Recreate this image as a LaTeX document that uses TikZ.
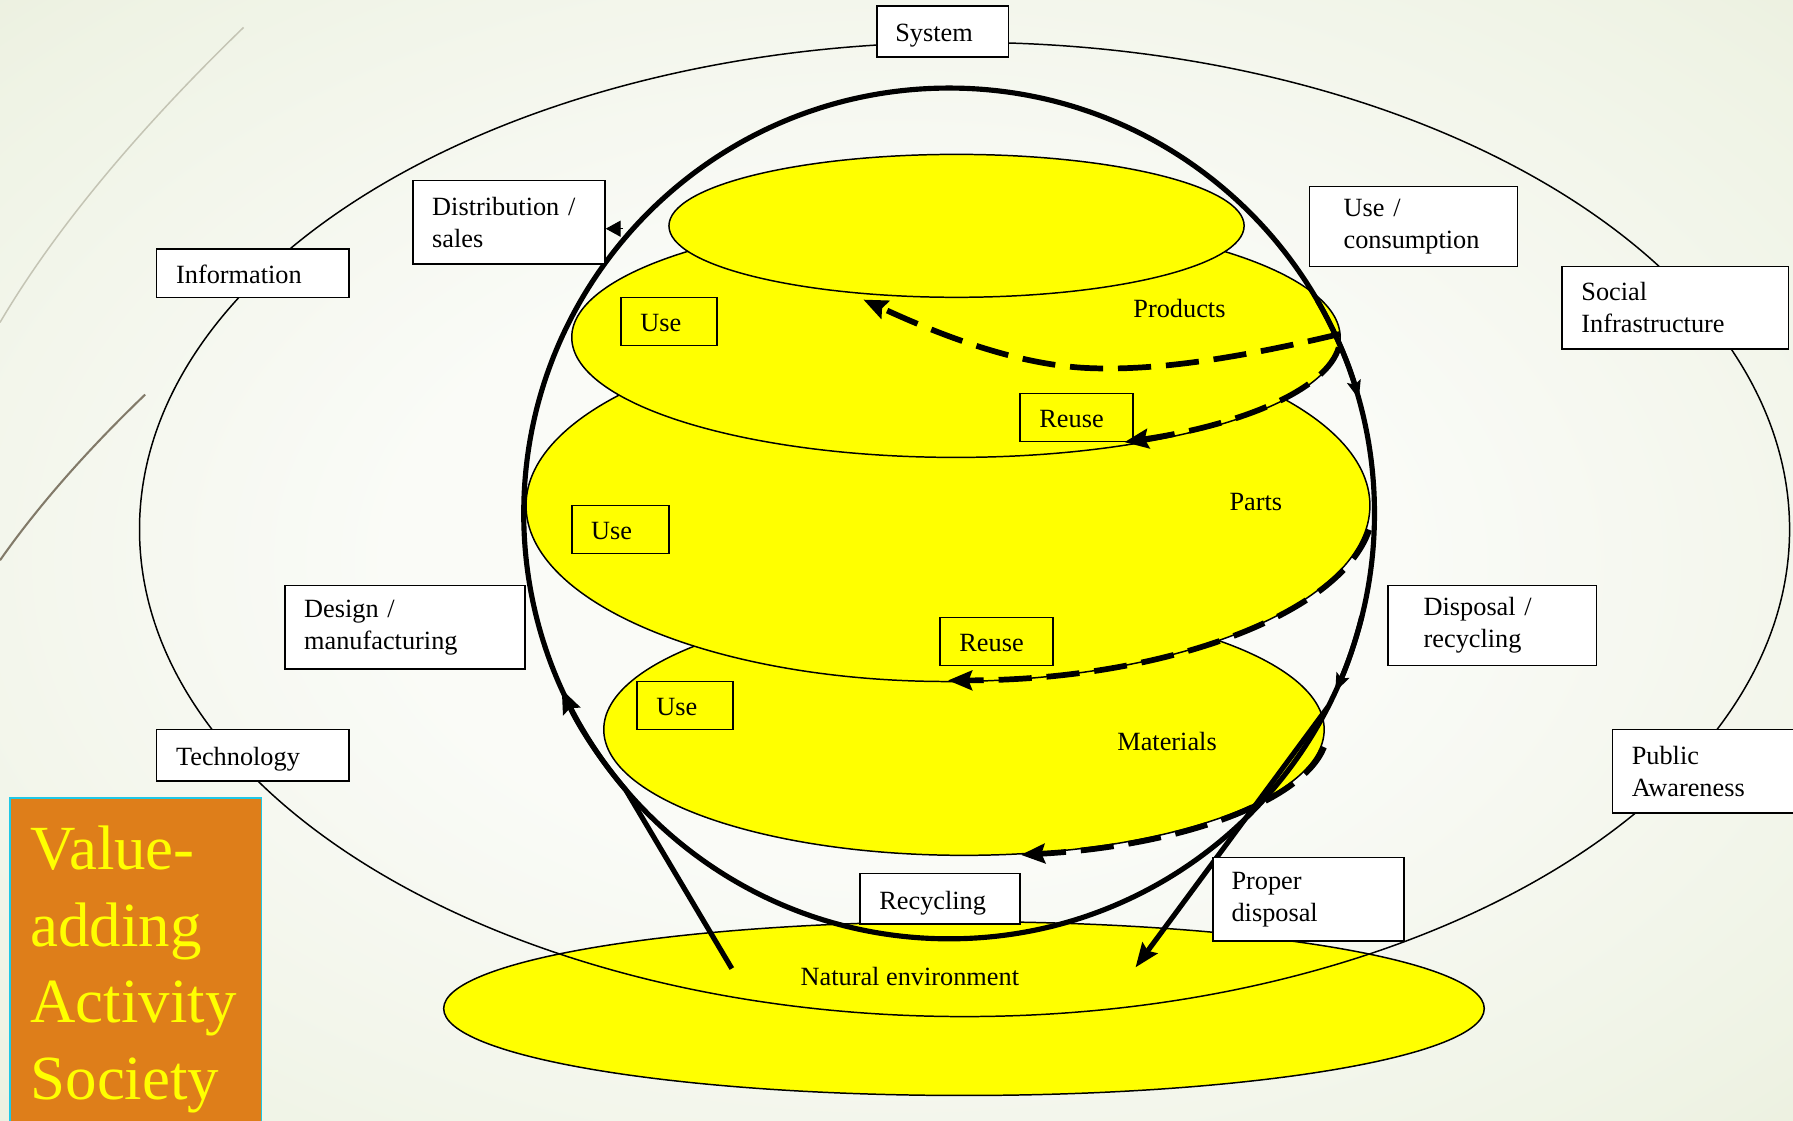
\documentclass[tikz,border=0pt]{standalone}
\usepackage{fontspec}
\setmainfont{Liberation Serif}
\usetikzlibrary{arrows.meta,calc}

\definecolor{bgouter}{RGB}{225,232,206}
\definecolor{bgmid}{RGB}{239,243,229}
\definecolor{bginner}{RGB}{250,251,247}
\definecolor{sunyellow}{RGB}{255,255,0}
\definecolor{vaorange}{RGB}{222,126,26}
\definecolor{vacyan}{RGB}{30,200,230}
\definecolor{swirlpale}{RGB}{196,196,180}
\definecolor{swirldark}{RGB}{130,122,105}

\pgfdeclareradialshading{slidebg}{\pgfpoint{0bp}{0bp}}{%
  color(0bp)=(bginner); color(14bp)=(bginner); color(32bp)=(bgmid);
  color(50bp)=(bgouter); color(72bp)=(bgouter)}

\begin{document}
\begin{tikzpicture}[x=1pt,y=-1pt,
  every node/.style={font=\fontsize{23}{28}\selectfont},
  lbl/.style={draw=black, line width=1.4pt, fill=white, align=left, inner ysep=0pt},
  usebox/.style={draw=black, line width=1.4pt, align=left, inner ysep=0pt},
  oneline/.style={text height=18pt, text depth=0pt},
  tag/.style={inner sep=0pt, anchor=base west},
  disc/.style={draw=black, line width=1.3pt, fill=sunyellow},
  thinring/.style={draw=black, line width=1.3pt},
  flowring/.style={draw=black, line width=4.5pt},
  flowarrow/.style={draw=black, line width=4.5pt, -{Stealth[length=21pt,width=16pt,inset=3pt]}},
  ringtip/.style={draw=black, line width=4.5pt, -{Stealth[length=16pt,width=12pt,inset=3pt]}},
  dasharrow/.style={draw=black, line width=5pt, dash pattern=on 29pt off 13pt,
    -{Stealth[length=21pt,width=17pt,inset=3pt]}},
]
\useasboundingbox (0,0) rectangle (1568,980);
\clip (0,0) rectangle (1568,980);

% slide background
\shade[shading=slidebg] (0,0) rectangle (1568,980);
\draw[swirlpale, line width=1.3pt] (213,24) .. controls (150,85) and (60,180) .. (0,282);
\draw[swirldark, line width=1.8pt] (127,345) .. controls (80,390) and (35,440) .. (0,490);

% natural environment and the society ring
\draw[disc] (843,882) ellipse[x radius=455, y radius=76];
\draw[thinring] (843.5,463) ellipse[x radius=721.5, y radius=426];

% stacked layers: materials, parts, products, top
\draw[disc] (843,638) ellipse[x radius=315, y radius=110];
\draw[disc] (829,442) ellipse[x radius=369, y radius=154];
\draw[disc] (836,295) ellipse[x radius=336, y radius=105];
\draw[disc] (836.5,197.5) ellipse[x radius=251.5, y radius=62.5];

% life-cycle loop
\draw[flowring] (830,449) circle[radius=372];

% named points on the loop and the layers
\coordinate (natsrc) at (640,847);
\coordinate (upmerge) at (547.1,690.6);
\coordinate (ringA) at (1152.2,263);
\coordinate (ringB) at (1190.9,539);
\coordinate (ringD) at (545,200);
\coordinate (dispsrc) at (1161.3,618.2);
\coordinate (disptip) at (993,846);
\coordinate (prodR) at (1172,292);
\coordinate (prodtip) at (755,262);
\coordinate (reuseAsrc) at (1170.7,303.9);
\coordinate (reuseBsrc) at (1197.4,463.3);
\coordinate (recycsrc) at (1157.9,653.4);

% solid flows
\draw[flowarrow] (natsrc) -- (upmerge) arc[start angle=139.5, end angle=155.6, radius=372];
\draw[ringtip] (ringA) arc[start angle=-30, end angle=-15.6, radius=372];
\draw[ringtip] (ringB) arc[start angle=14, end angle=24.8, radius=372];
\draw[flowarrow] (dispsrc) -- (disptip);

% dashed return flows
\draw[dasharrow] (prodR) .. controls (1080,314) and (1010,324) .. (955,322)
  .. controls (890,320) and (820,292) .. (prodtip);
\draw[dasharrow] (reuseAsrc) arc[start angle=5, end angle=64, x radius=336, y radius=102];
\draw[dasharrow] (reuseBsrc) arc[start angle=8, end angle=90, x radius=372, y radius=153];
\draw[dasharrow] (recycsrc) arc[start angle=8, end angle=81, x radius=318, y radius=111];

% stage labels
\node[lbl, oneline, text width=83pt, inner xsep=16pt, minimum height=45pt] (system) at (824.5,27.5) {System};
\node[lbl, oneline, text width=134pt, inner xsep=17pt, minimum height=42pt] (info) at (221,239) {Information};
\node[lbl, text width=134pt, inner xsep=17pt, minimum height=73pt] (dist) at (445,194.5) {Distribution /\\sales};
\node[lbl, text width=122pt, inner xsep=30pt, minimum height=70pt] (usecons) at (1236,198) {Use /\\consumption};
\node[lbl, text width=164pt, inner xsep=17pt, minimum height=72pt] (social) at (1465,269) {Social\\Infrastructure};
\node[lbl, text width=176pt, inner xsep=17pt, minimum height=73pt] (design) at (354,548.5) {Design /\\manufacturing};
\node[lbl, oneline, text width=134pt, inner xsep=17pt, minimum height=45pt] (tech) at (221,660.5) {Technology};
\node[lbl, text width=120pt, inner xsep=31pt, minimum height=70pt] (disposal) at (1305,547) {Disposal /\\recycling};
\node[lbl, text width=131pt, inner xsep=17pt, minimum height=73pt] (public) at (1492.5,674.5) {Public\\Awareness};
\node[lbl, text width=135pt, inner xsep=16pt, minimum height=73pt] (proper) at (1144.5,786.5) {Proper\\disposal};
\node[lbl, oneline, text width=106pt, inner xsep=17pt, minimum height=44pt] (recyc) at (822,786) {Recycling};

% arrow into distribution
\draw[line width=1pt, -{Triangle[length=13pt,width=14pt]}] (ringD) -- (dist.east |- ringD);

% boxes inside the layers
\node[usebox, oneline, text width=50pt, inner xsep=17pt, minimum height=42pt] (useA) at (585,281) {Use};
\node[usebox, oneline, text width=51pt, inner xsep=17pt, minimum height=42pt] (useB) at (542.5,463) {Use};
\node[usebox, oneline, text width=50pt, inner xsep=17pt, minimum height=42pt] (useC) at (599,617) {Use};
\node[usebox, oneline, text width=65pt, inner xsep=17pt, minimum height=42pt] (reuseA) at (941.5,365) {Reuse};
\node[usebox, oneline, text width=65pt, inner xsep=17pt, minimum height=42pt] (reuseB) at (871.5,561) {Reuse};

% layer names
\node[tag] (prodlbl) at (991,278) {Products};
\node[tag] (partslbl) at (1075,446) {Parts};
\node[tag] (matlbl) at (977,656) {Materials};
\node[tag] (natlbl) at (700,862) {Natural environment};

% title block
\node[fill=vaorange, draw=vacyan, line width=1.5pt, anchor=north west,
  minimum width=220pt, minimum height=300pt, text width=184pt, inner xsep=18pt,
  align=left, text=sunyellow, font=\fontsize{55}{67}\selectfont] (title) at (8,697)
  {Value-\\adding\\Activity\\Society};
\end{tikzpicture}
\end{document}
